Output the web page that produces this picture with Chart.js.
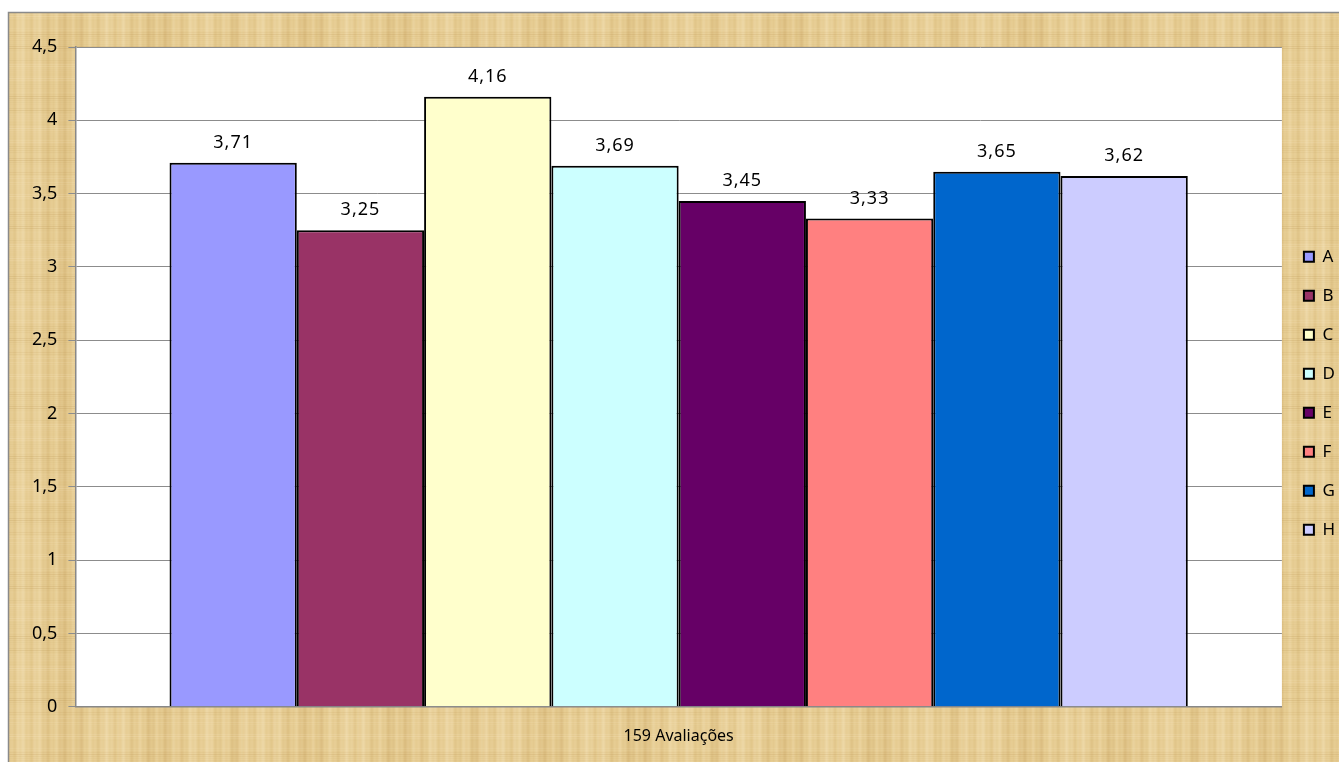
<!DOCTYPE html>
<html>
<head>
<meta charset="utf-8">
<script src="https://cdn.jsdelivr.net/npm/chart.js@4.4.0/dist/chart.umd.min.js"></script>
<style>
  html, body { margin: 0; padding: 0; background: #fff; }
  #wrap { width: 1339px; height: 762px; position: relative; }
</style>
</head>
<body>
<div id="wrap"><canvas id="myChart" width="1339" height="762"></canvas></div>
<script>
// dados do gráfico
const categorias = ['159 Avaliações'];
const series = ['A', 'B', 'C', 'D', 'E', 'F', 'G', 'H'];
const valores = [3.71, 3.25, 4.16, 3.69, 3.45, 3.33, 3.65, 3.62];
const cores = ['#9999FF', '#993366', '#FFFFCC', '#CCFFFF', '#660066', '#FF8080', '#0066CC', '#CCCCFF'];
const yTicks = [0, 0.5, 1, 1.5, 2, 2.5, 3, 3.5, 4, 4.5];

const fonte = "'Noto Sans', 'DejaVu Sans', sans-serif";

function virgula(v){
	return String(v).replace('.', ',');
}

// textura tipo papiro para o fundo
function texturaPapiro(ctx){
	const c = document.createElement('canvas');
	c.width = 240; c.height = 180;
	const g = c.getContext('2d');
	g.fillStyle = '#E6CC92';
	g.fillRect(0, 0, c.width, c.height);
	for(let x = 0; x < c.width; x++){
		const s = Math.sin(x * 0.37) + Math.sin(x * 1.13 + 1) * 0.6 + Math.sin(x * 0.07) * 0.8;
		g.fillStyle = s > 0 ? 'rgba(250,235,200,' + (s * 0.16) + ')' : 'rgba(190,150,80,' + (-s * 0.12) + ')';
		g.fillRect(x, 0, 1, c.height);
	}
	for(let y = 0; y < c.height; y += 2){
		const s = Math.sin(y * 0.5) + Math.sin(y * 0.11) + Math.sin(y * 0.9) * 0.5;
		g.fillStyle = s > 0 ? 'rgba(255,240,210,' + (s * 0.08) + ')' : 'rgba(170,130,60,' + (-s * 0.07) + ')';
		g.fillRect(0, y, c.width, 1);
	}
	return ctx.createPattern(c, 'repeat');
}

const fundo = {
	id: 'fundo',
	beforeDraw(chart){
		const ctx = chart.ctx, a = chart.chartArea;
		ctx.save();
		ctx.fillStyle = '#fff';
		ctx.fillRect(0, 0, chart.width, chart.height);
		ctx.fillStyle = texturaPapiro(ctx);
		ctx.fillRect(8, 12, chart.width - 8, chart.height - 12);
		ctx.strokeStyle = '#8a8a8a';
		ctx.lineWidth = 1.5;
		ctx.beginPath();
		ctx.moveTo(8.5, chart.height); ctx.lineTo(8.5, 12.5); ctx.lineTo(chart.width, 12.5);
		ctx.stroke();
		ctx.fillStyle = '#fff';
		ctx.fillRect(a.left, a.top, a.right - a.left, a.bottom - a.top);
		ctx.restore();
	}
};

// rótulos de valor em cima das barras
const rotulos = {
	id: 'rotulos',
	afterDatasetsDraw(chart){
		const ctx = chart.ctx;
		ctx.save();
		ctx.font = '18px ' + fonte;
		ctx.letterSpacing = '1px';
		ctx.fillStyle = '#000';
		ctx.textAlign = 'center';
		ctx.textBaseline = 'alphabetic';
		chart.data.datasets.forEach(function(ds, i){
			chart.getDatasetMeta(i).data.forEach(function(bar, j){
				ctx.fillText(virgula(ds.data[j]), bar.x, bar.y - 15);
			});
		});
		ctx.restore();
	}
};

document.addEventListener("DOMContentLoaded", function(){
	new Chart('myChart', {
		type: 'bar',
		data: {
			labels: categorias,
			datasets: series.map(function(s, i){
				return {
					label: s,
					data: [valores[i]],
					backgroundColor: cores[i],
					borderColor: '#000',
					borderWidth: 2,
					borderSkipped: 'bottom'
				};
			})
		},
		options: {
			responsive: false,
			animation: false,
			devicePixelRatio: 1,
			layout: { padding: { left: 21, top: 47, right: -6, bottom: -4 } },
			datasets: { bar: { categoryPercentage: 0.844, barPercentage: 1 } },
			plugins: {
				legend: {
					position: 'right',
					align: 'start',
					title: { display: true, text: ' ', font: { size: 1 }, padding: { top: 0, bottom: 178 } },
					labels: {
						font: { family: fonte, size: 17 },
						color: '#000',
						boxWidth: 10,
						boxHeight: 10,
						padding: 22
					}
				},
				tooltip: { enabled: false }
			},
			scales: {
				x: {
					grid: { display: false, drawTicks: false },
					border: { color: '#888', width: 1.5 },
					ticks: { font: { family: fonte, size: 16 }, color: '#000', padding: 20 }
				},
				y: {
					min: 0, max: 4.5,
					afterBuildTicks: function(axis){ axis.ticks = yTicks.map(function(v){ return { value: v }; }); },
					grid: { color: '#8c8c8c', tickLength: 7, lineWidth: 1 },
					border: { color: '#888', width: 1.5 },
					ticks: {
						font: { family: fonte, size: 18 },
						color: '#000',
						padding: 11,
						callback: function(v){ return virgula(v); }
					}
				}
			}
		},
		plugins: [fundo, rotulos]
	});
});
</script>
</body>
</html>
